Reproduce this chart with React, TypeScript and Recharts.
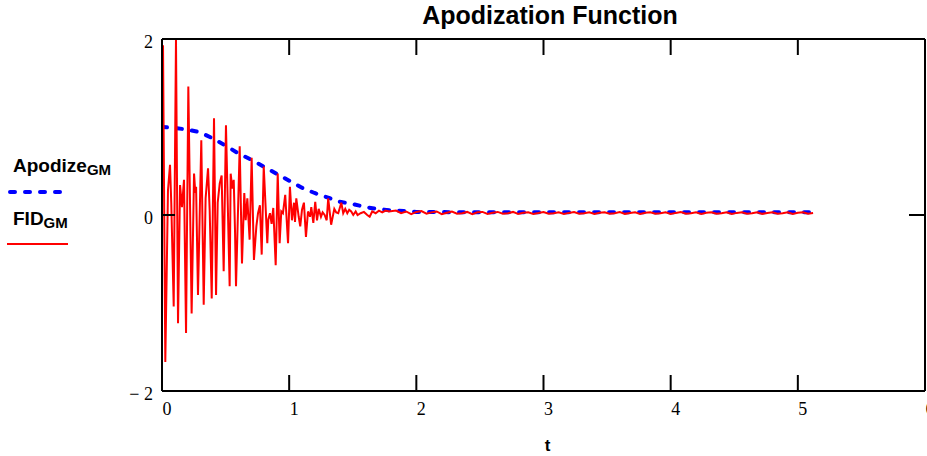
import React from 'react';
import { LineChart, Line, XAxis, YAxis, Legend } from 'recharts';

// ---- Data ----
const xTicks = [0, 1, 2, 3, 4, 5, 6];
const xTopTicks = [1, 2, 3, 4, 5];
const yTicks = [-2, 0, 2];
const yTickLabels: Record<string, string> = { '-2': '\u2212 2', '0': '0', '2': '2' };

const apodizeT = [0, 0.1, 0.2, 0.3, 0.4, 0.5, 0.6, 0.7, 0.8, 0.9, 1.0, 1.1, 1.2, 1.3, 1.4, 1.5, 1.6, 1.7, 1.8, 1.9, 2.0, 2.5, 3.0, 3.5, 4.0, 4.5, 5.0, 5.12];
const apodizeV = [1.0, 0.99, 0.97, 0.94, 0.87, 0.79, 0.7, 0.63, 0.55, 0.47, 0.39, 0.31, 0.25, 0.2, 0.15, 0.125, 0.09, 0.068, 0.053, 0.045, 0.035, 0.03, 0.03, 0.03, 0.03, 0.03, 0.03, 0.03];

const fidHeadT = [0.008, 0.026, 0.047, 0.063, 0.073, 0.092, 0.11, 0.126, 0.142, 0.157, 0.173, 0.189, 0.207, 0.233, 0.252, 0.262, 0.268, 0.283, 0.309, 0.328, 0.343, 0.362, 0.375, 0.391, 0.409, 0.425, 0.438, 0.454, 0.469, 0.485, 0.503, 0.532, 0.54, 0.553, 0.564, 0.574, 0.582, 0.611, 0.629, 0.647, 0.658, 0.671, 0.689, 0.705, 0.723, 0.742, 0.755, 0.77, 0.784, 0.8, 0.828, 0.836, 0.849, 0.862, 0.875, 0.894, 0.91, 0.925, 0.938, 0.951, 0.969, 0.991, 1.006, 1.022, 1.038, 1.046, 1.056, 1.075, 1.087, 1.101, 1.116, 1.132, 1.148, 1.164, 1.174, 1.19, 1.205, 1.219, 1.232, 1.25, 1.263, 1.279, 1.295, 1.307, 1.33, 1.355, 1.37, 1.386, 1.41, 1.425, 1.441, 1.457, 1.472, 1.488, 1.504, 1.523, 1.538, 1.562, 1.588, 1.614, 1.633, 1.653, 1.68, 1.706, 1.732, 1.759, 1.785];
const fidHeadV = [1.93, -1.67, 0.28, 0.57, 0.13, -1.04, 2.0, -1.23, 0.34, 0.09, 0.4, -1.34, 1.46, -1.12, 0.47, 0.25, 0.32, -0.91, 0.85, -1.02, 0.19, 0.53, 0.05, -0.95, 1.1, -0.91, 0.14, 0.36, 0.45, -0.64, 1.02, -0.81, 0.47, 0.3, 0.4, -0.17, -0.81, 0.78, -0.55, 0.25, -0.06, 0.19, -0.28, 0.65, -0.51, -0.13, 0.02, 0.11, -0.45, 0.55, -0.32, -0.05, 0.02, -0.1, 0.08, -0.57, 0.47, -0.32, 0.04, 0.02, 0.23, -0.32, 0.32, -0.06, 0.14, -0.08, 0.19, -0.02, -0.13, 0.06, 0.14, -0.25, 0.04, -0.02, 0.09, -0.09, 0.15, -0.06, 0.07, -0.02, 0.03, 0.0, -0.06, 0.19, -0.11, 0.07, 0.03, 0.02, 0.14, 0.02, 0.07, 0.02, 0.06, 0.04, 0.0, 0.04, 0.0, 0.02, 0.035, 0.0, -0.02, 0.04, 0.02, 0.05, 0.03, 0.05, 0.04];

const fidTailStart = 1.84;
const fidTailStep = 0.04;
const fidTailV = [
  0.05, 0.02, 0.04, 0.01, 0.035, 0.045, 0.015, 0.03, 0.04, 0.01,
  0.025, 0.04, 0.015, 0.02, 0.035, 0.01, 0.03, 0.035, 0.012, 0.025,
  0.035, 0.015, 0.02, 0.035, 0.012, 0.025, 0.032, 0.012, 0.022, 0.034,
  0.014, 0.02, 0.032, 0.012, 0.024, 0.033, 0.015, 0.02, 0.03, 0.012,
  0.025, 0.032, 0.014, 0.02, 0.033, 0.013, 0.022, 0.03, 0.012, 0.025,
  0.032, 0.015, 0.02, 0.03, 0.012, 0.024, 0.033, 0.014, 0.02, 0.03,
  0.013, 0.025, 0.031, 0.014, 0.021, 0.032, 0.012, 0.024, 0.03, 0.015,
  0.02, 0.032, 0.013, 0.023, 0.03, 0.014, 0.02, 0.031, 0.012, 0.025,
  0.03, 0.015, 0.022,
];

const apodizeData = apodizeT.map((t, i) => ({ t, v: apodizeV[i] }));
const fidData = [
  ...fidHeadT.map((t, i) => ({ t, v: fidHeadV[i] })),
  ...fidTailV.map((v, i) => ({ t: +(fidTailStart + i * fidTailStep).toFixed(3), v })),
];

const SERIF = 'Liberation Serif, Times New Roman, serif';
const SANS = 'Liberation Sans, Arial, sans-serif';

const BottomTick = (props: any) => {
  const { x, y, payload } = props;
  const v = payload.value;
  return (
    <g>
      {v > 0 && v < 6 && <line x1={x} y1={y} x2={x} y2={y - 16} stroke="#000" strokeWidth={2} />}
      <text x={x + 5} y={y + 24} textAnchor="middle" fontFamily={SERIF} fontSize={18} fill="#000">
        {String(v)}
      </text>
    </g>
  );
};

const TopTick = (props: any) => {
  const { x, y } = props;
  return <line x1={x} y1={y} x2={x} y2={y + 16} stroke="#000" strokeWidth={2} />;
};

const LeftTick = (props: any) => {
  const { x, y, payload } = props;
  const v = payload.value;
  return (
    <g>
      {v === 0 && <line x1={x} y1={y} x2={x + 13} y2={y} stroke="#000" strokeWidth={2} />}
      <text x={x - 9} y={y + 9} textAnchor="end" fontFamily={SERIF} fontSize={18} fill="#000">
        {yTickLabels[String(v)]}
      </text>
    </g>
  );
};

const RightTick = (props: any) => {
  const { x, y } = props;
  return <line x1={x} y1={y} x2={x - 16} y2={y} stroke="#000" strokeWidth={2} />;
};

const LegendContent = (props: any) => {
  const payload = props.payload || [];
  const rows = payload.map((p: any, i: number) => {
    const name: string = p.value || '';
    const [main, sub] = name.split('_');
    const baseY = i === 0 ? 32 : 85;
    const lineY = i === 0 ? 52 : 104;
    const dashed = i === 0;
    return (
      <g key={name}>
        <text x={13} y={baseY} fontFamily={SANS} fontWeight="bold" fontSize={19} fill="#000">
          {main}
          <tspan fontSize={15} dy={3}>{sub}</tspan>
        </text>
        <line
          x1={dashed ? 10 : 7}
          y1={lineY}
          x2={dashed ? 62 : 68}
          y2={lineY}
          stroke={p.color}
          strokeWidth={dashed ? 4 : 2}
          strokeDasharray={dashed ? '5 10' : undefined}
          strokeLinecap={dashed ? 'round' : 'butt'}
        />
      </g>
    );
  });
  return (
    <svg width={125} height={120} style={{ display: 'block' }}>
      {rows}
    </svg>
  );
};

export default function App() {
  return (
    <div style={{ position: 'absolute', left: 0, top: 0, background: '#fff' }}>
      <LineChart width={927} height={456} margin={{ top: 38, right: 1, bottom: 0, left: 0 }}>
        <XAxis
          xAxisId="b"
          type="number"
          dataKey="t"
          domain={[0, 6]}
          ticks={xTicks}
          interval={0}
          orientation="bottom"
          height={65}
          axisLine={{ stroke: '#000', strokeWidth: 2 }}
          tickLine={false}
          tickSize={0}
          tickMargin={0}
          tick={<BottomTick />}
          allowDataOverflow
        />
        <XAxis
          xAxisId="top"
          type="number"
          dataKey="t"
          domain={[0, 6]}
          ticks={xTopTicks}
          interval={0}
          orientation="top"
          height={1}
          axisLine={{ stroke: '#000', strokeWidth: 2 }}
          tickLine={false}
          tickSize={0}
          tickMargin={0}
          tick={<TopTick />}
          allowDataOverflow
        />
        <YAxis
          yAxisId="l"
          type="number"
          domain={[-2, 2]}
          ticks={yTicks}
          interval={0}
          orientation="left"
          width={162}
          axisLine={{ stroke: '#000', strokeWidth: 2 }}
          tickLine={false}
          tickSize={0}
          tickMargin={0}
          tick={<LeftTick />}
          allowDataOverflow
        />
        <YAxis
          yAxisId="r"
          type="number"
          domain={[-2, 2]}
          ticks={[0]}
          interval={0}
          orientation="right"
          width={1}
          axisLine={{ stroke: '#000', strokeWidth: 2 }}
          tickLine={false}
          tickSize={0}
          tickMargin={0}
          tick={<RightTick />}
          allowDataOverflow
        />
        <Legend
          layout="vertical"
          align="center"
          verticalAlign="middle"
          wrapperStyle={{ left: 0, top: 140, width: 125, height: 120 }}
          content={<LegendContent />}
        />
        <Line
          xAxisId="b"
          yAxisId="l"
          data={apodizeData}
          dataKey="v"
          name="Apodize_GM"
          type="linear"
          stroke="#0000ff"
          strokeWidth={4}
          strokeDasharray="5 10"
          strokeLinecap="round"
          dot={false}
          activeDot={false}
          isAnimationActive={false}
        />
        <Line
          xAxisId="b"
          yAxisId="l"
          data={fidData}
          dataKey="v"
          name="FID_GM"
          type="linear"
          stroke="#ff0000"
          strokeWidth={2}
          dot={false}
          activeDot={false}
          isAnimationActive={false}
        />
        <text x={550} y={24} textAnchor="middle" fontFamily={SANS} fontWeight="bold" fontSize={25} fill="#000">
          Apodization Function
        </text>
        <text x={547.5} y={451} textAnchor="middle" fontFamily={SANS} fontWeight="bold" fontSize={17} fill="#000">
          t
        </text>
      </LineChart>
    </div>
  );
}
